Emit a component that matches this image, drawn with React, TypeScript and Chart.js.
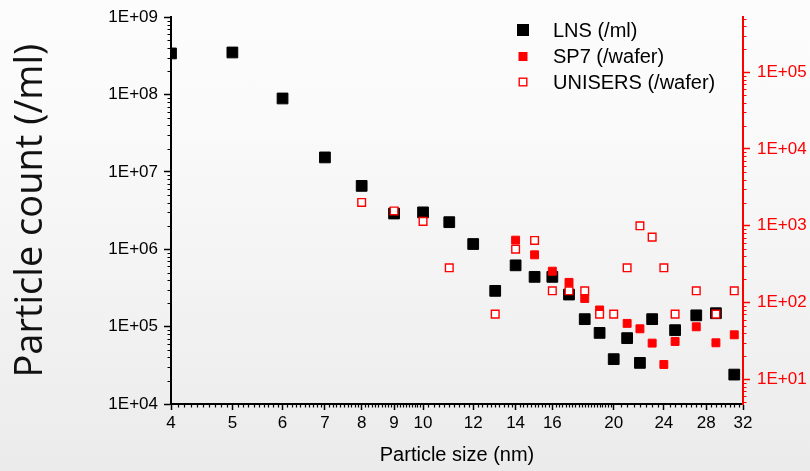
import React, { useEffect, useRef } from 'react';
import { Chart, registerables } from 'chart.js';

Chart.register(...registerables);

// ---- data ----
const xTickValues = [4, 5, 6, 7, 8, 9, 10, 12, 14, 16, 20, 24, 28, 32];
const leftTickValues = [1e4, 1e5, 1e6, 1e7, 1e8, 1e9];
const leftTickLabels = ['1E+04', '1E+05', '1E+06', '1E+07', '1E+08', '1E+09'];
const rightTickValues = [1e1, 1e2, 1e3, 1e4, 1e5];
const rightTickLabels = ['1E+01', '1E+02', '1E+03', '1E+04', '1E+05'];

const lnsSize = [4, 5, 6, 7, 8, 9, 10, 11, 12, 13, 14, 15, 16, 17, 18, 19, 20, 21, 22, 23, 25, 27, 29, 31];
const lnsCount = [3.4e8, 3.5e8, 8.9e7, 1.54e7, 6.6e6, 2.9e6, 3.0e6, 2.24e6, 1.17e6, 2.9e5, 6.2e5, 4.4e5, 4.4e5, 2.6e5, 1.25e5, 8.3e4, 3.8e4, 7.1e4, 3.4e4, 1.25e5, 9.0e4, 1.4e5, 1.49e5, 2.4e4];

const sp7Size = [14, 15, 16, 17, 18, 19, 21, 22, 23, 24, 25, 27, 29, 31];
const sp7Count = [649, 418, 256, 183, 113, 80, 53.5, 45.5, 29.6, 15.6, 31.1, 48.3, 29.9, 38];

const uniSize = [8, 9, 10, 11, 13, 14, 15, 16, 17, 18, 19, 20, 21, 22, 23, 24, 25, 27, 29, 31];
const uniCount = [2010, 1560, 1140, 283, 70.6, 495, 644, 142, 142, 142, 70.6, 70.6, 283, 998, 711, 283, 70.6, 142, 70.6, 142];

const seriesLabels = ['LNS (/ml)', 'SP7 (/wafer)', 'UNISERS (/wafer)'];

const FONT = '"Liberation Sans", Arial, sans-serif';
const RED = '#ff0000';

const minorTicksPlugin = {
  id: 'minorTicks',
  afterDraw(chart: any) {
    const ctx = chart.ctx;
    const x = chart.scales.x;
    const y = chart.scales.y;
    const y2 = chart.scales.y2;
    const area = chart.chartArea;
    ctx.save();
    ctx.lineWidth = 1.2;
    // x minor ticks
    const xs: number[] = [];
    for (let i = 41; i < 100; i++) xs.push(i / 10);
    for (let i = 51; i < 100; i += 1) xs.push(i / 5);
    for (let i = 41; i < 64; i++) xs.push(i / 2);
    ctx.strokeStyle = '#000';
    ctx.beginPath();
    xs.forEach((v) => {
      if (xTickValues.includes(v)) return;
      const px = Math.round(x.getPixelForValue(v)) + 0.5;
      ctx.moveTo(px, area.bottom);
      ctx.lineTo(px, area.bottom + 3.5);
    });
    ctx.stroke();
    // left y minor
    ctx.beginPath();
    for (let d = 4; d < 9; d++) {
      for (let m = 2; m <= 9; m++) {
        const py = Math.round(y.getPixelForValue(m * Math.pow(10, d))) + 0.5;
        ctx.moveTo(area.left, py);
        ctx.lineTo(area.left - 3.5, py);
      }
    }
    ctx.stroke();
    // right y minor
    ctx.strokeStyle = RED;
    ctx.beginPath();
    for (let d = 0; d < 6; d++) {
      for (let m = 2; m <= 9; m++) {
        const v = m * Math.pow(10, d);
        if (v < y2.min || v > y2.max) continue;
        const py = Math.round(y2.getPixelForValue(v)) + 0.5;
        ctx.moveTo(area.right, py);
        ctx.lineTo(area.right + 3.5, py);
      }
    }
    ctx.stroke();
    ctx.restore();
  },
};

const legendPlugin = {
  id: 'customLegend',
  afterDraw(chart: any) {
    const ctx = chart.ctx;
    const lx = 523;
    const rows = [30, 56.5, 82];
    const sizes = [12, 9, 9];
    ctx.save();
    chart.data.datasets.forEach((ds: any, i: number) => {
      const cy = rows[i];
      const s = sizes[i];
      if (i === 2) {
        ctx.fillStyle = '#fff';
        ctx.fillRect(lx - s / 2, cy - s / 2, s, s);
        ctx.strokeStyle = RED;
        ctx.lineWidth = 1.4;
        ctx.strokeRect(lx - s / 2 + 0.7, cy - s / 2 + 0.7, s - 1.4, s - 1.4);
      } else {
        ctx.fillStyle = ds.backgroundColor;
        ctx.fillRect(lx - s / 2, cy - s / 2, s, s);
      }
      ctx.fillStyle = '#000';
      ctx.font = `20px ${FONT}`;
      ctx.textBaseline = 'middle';
      ctx.textAlign = 'left';
      ctx.fillText(ds.label, 553, cy + 1);
    });
    ctx.restore();
  },
};

export default function App() {
  const ref = useRef<HTMLCanvasElement>(null);
  useEffect(() => {
    document.body.style.margin = '0';
    document.body.style.background = '#f4f4f4';
    const chart = new Chart(ref.current as HTMLCanvasElement, {
      type: 'scatter',
      data: {
        datasets: [
          {
            label: seriesLabels[0],
            data: lnsSize.map((s, i) => ({ x: s, y: lnsCount[i] })),
            yAxisID: 'y',
            pointStyle: 'rect',
            pointRadius: 7.6,
            borderWidth: 1,
            backgroundColor: '#000',
            borderColor: '#000',
            order: 3,
          },
          {
            label: seriesLabels[1],
            data: sp7Size.map((s, i) => ({ x: s, y: sp7Count[i] })),
            yAxisID: 'y2',
            pointStyle: 'rect',
            pointRadius: 5.6,
            borderWidth: 1,
            backgroundColor: RED,
            borderColor: RED,
            order: 2,
          },
          {
            label: seriesLabels[2],
            data: uniSize.map((s, i) => ({ x: s, y: uniCount[i] })),
            yAxisID: 'y2',
            pointStyle: 'rect',
            pointRadius: 5.4,
            borderWidth: 1.4,
            backgroundColor: '#ffffff',
            borderColor: RED,
            order: 1,
          },
        ],
      },
      options: {
        responsive: false,
        animation: false,
        devicePixelRatio: 1,
        layout: { padding: { top: 17, left: 0, right: 0, bottom: 0 } },
        plugins: {
          legend: { display: false },
          tooltip: { enabled: false },
        },
        scales: {
          x: {
            type: 'logarithmic',
            position: 'bottom',
            min: 4,
            max: 32,
            afterBuildTicks: (s: any) => {
              s.ticks = xTickValues.map((v) => ({ value: v }));
            },
            afterFit: (s: any) => {
              s.height = 67;
            },
            ticks: {
              autoSkip: false,
              maxRotation: 0,
              minRotation: 0,
              padding: 3,
              color: '#000',
              font: { family: FONT, size: 17 },
              callback: (v: any) => String(v),
            },
            grid: {
              drawOnChartArea: false,
              drawTicks: true,
              tickLength: 6,
              tickColor: '#000',
              tickWidth: 1.5,
            },
            border: { display: true, color: '#000', width: 2 },
            title: {
              display: true,
              text: 'Particle size (nm)',
              color: '#000',
              font: { family: FONT, size: 20 },
              padding: { top: 0, bottom: 4 },
            },
          },
          y: {
            type: 'logarithmic',
            position: 'left',
            min: 1e4,
            max: 1e9,
            afterBuildTicks: (s: any) => {
              s.ticks = leftTickValues.map((v) => ({ value: v }));
            },
            afterFit: (s: any) => {
              s.width = 171;
            },
            ticks: {
              autoSkip: false,
              padding: 6,
              color: '#000',
              font: { family: FONT, size: 17 },
              callback: (v: any) => leftTickLabels[leftTickValues.indexOf(Number(v))] ?? '',
            },
            grid: {
              drawOnChartArea: false,
              drawTicks: true,
              tickLength: 7,
              tickColor: '#000',
              tickWidth: 1.5,
            },
            border: { display: true, color: '#000', width: 2 },
            title: {
              display: true,
              text: 'Particle count (/ml)',
              color: '#111',
              font: { family: '"Open Sans", sans-serif', size: 38 },
              padding: { top: 8.5, bottom: 0 },
            },
          },
          y2: {
            type: 'logarithmic',
            position: 'right',
            min: 4.77,
            max: 5.2e5,
            afterBuildTicks: (s: any) => {
              s.ticks = rightTickValues.map((v) => ({ value: v }));
            },
            afterFit: (s: any) => {
              s.width = 67;
            },
            ticks: {
              autoSkip: false,
              padding: 7,
              color: RED,
              font: { family: FONT, size: 17 },
              callback: (v: any) => rightTickLabels[rightTickValues.indexOf(Number(v))] ?? '',
            },
            grid: {
              drawOnChartArea: false,
              drawTicks: true,
              tickLength: 7,
              tickColor: RED,
              tickWidth: 1.5,
            },
            border: { display: true, color: RED, width: 2 },
          },
        },
      } as any,
      plugins: [minorTicksPlugin, legendPlugin],
    });
    return () => chart.destroy();
  }, []);

  return (
    <div
      style={{
        width: 810,
        height: 471,
        background: 'linear-gradient(to bottom, #fcfcfc 0%, #fafafa 25%, #ebebeb 100%)',
      }}
    >
      <canvas ref={ref} width={810} height={471} style={{ display: 'block', width: 810, height: 471 }} />
    </div>
  );
}
